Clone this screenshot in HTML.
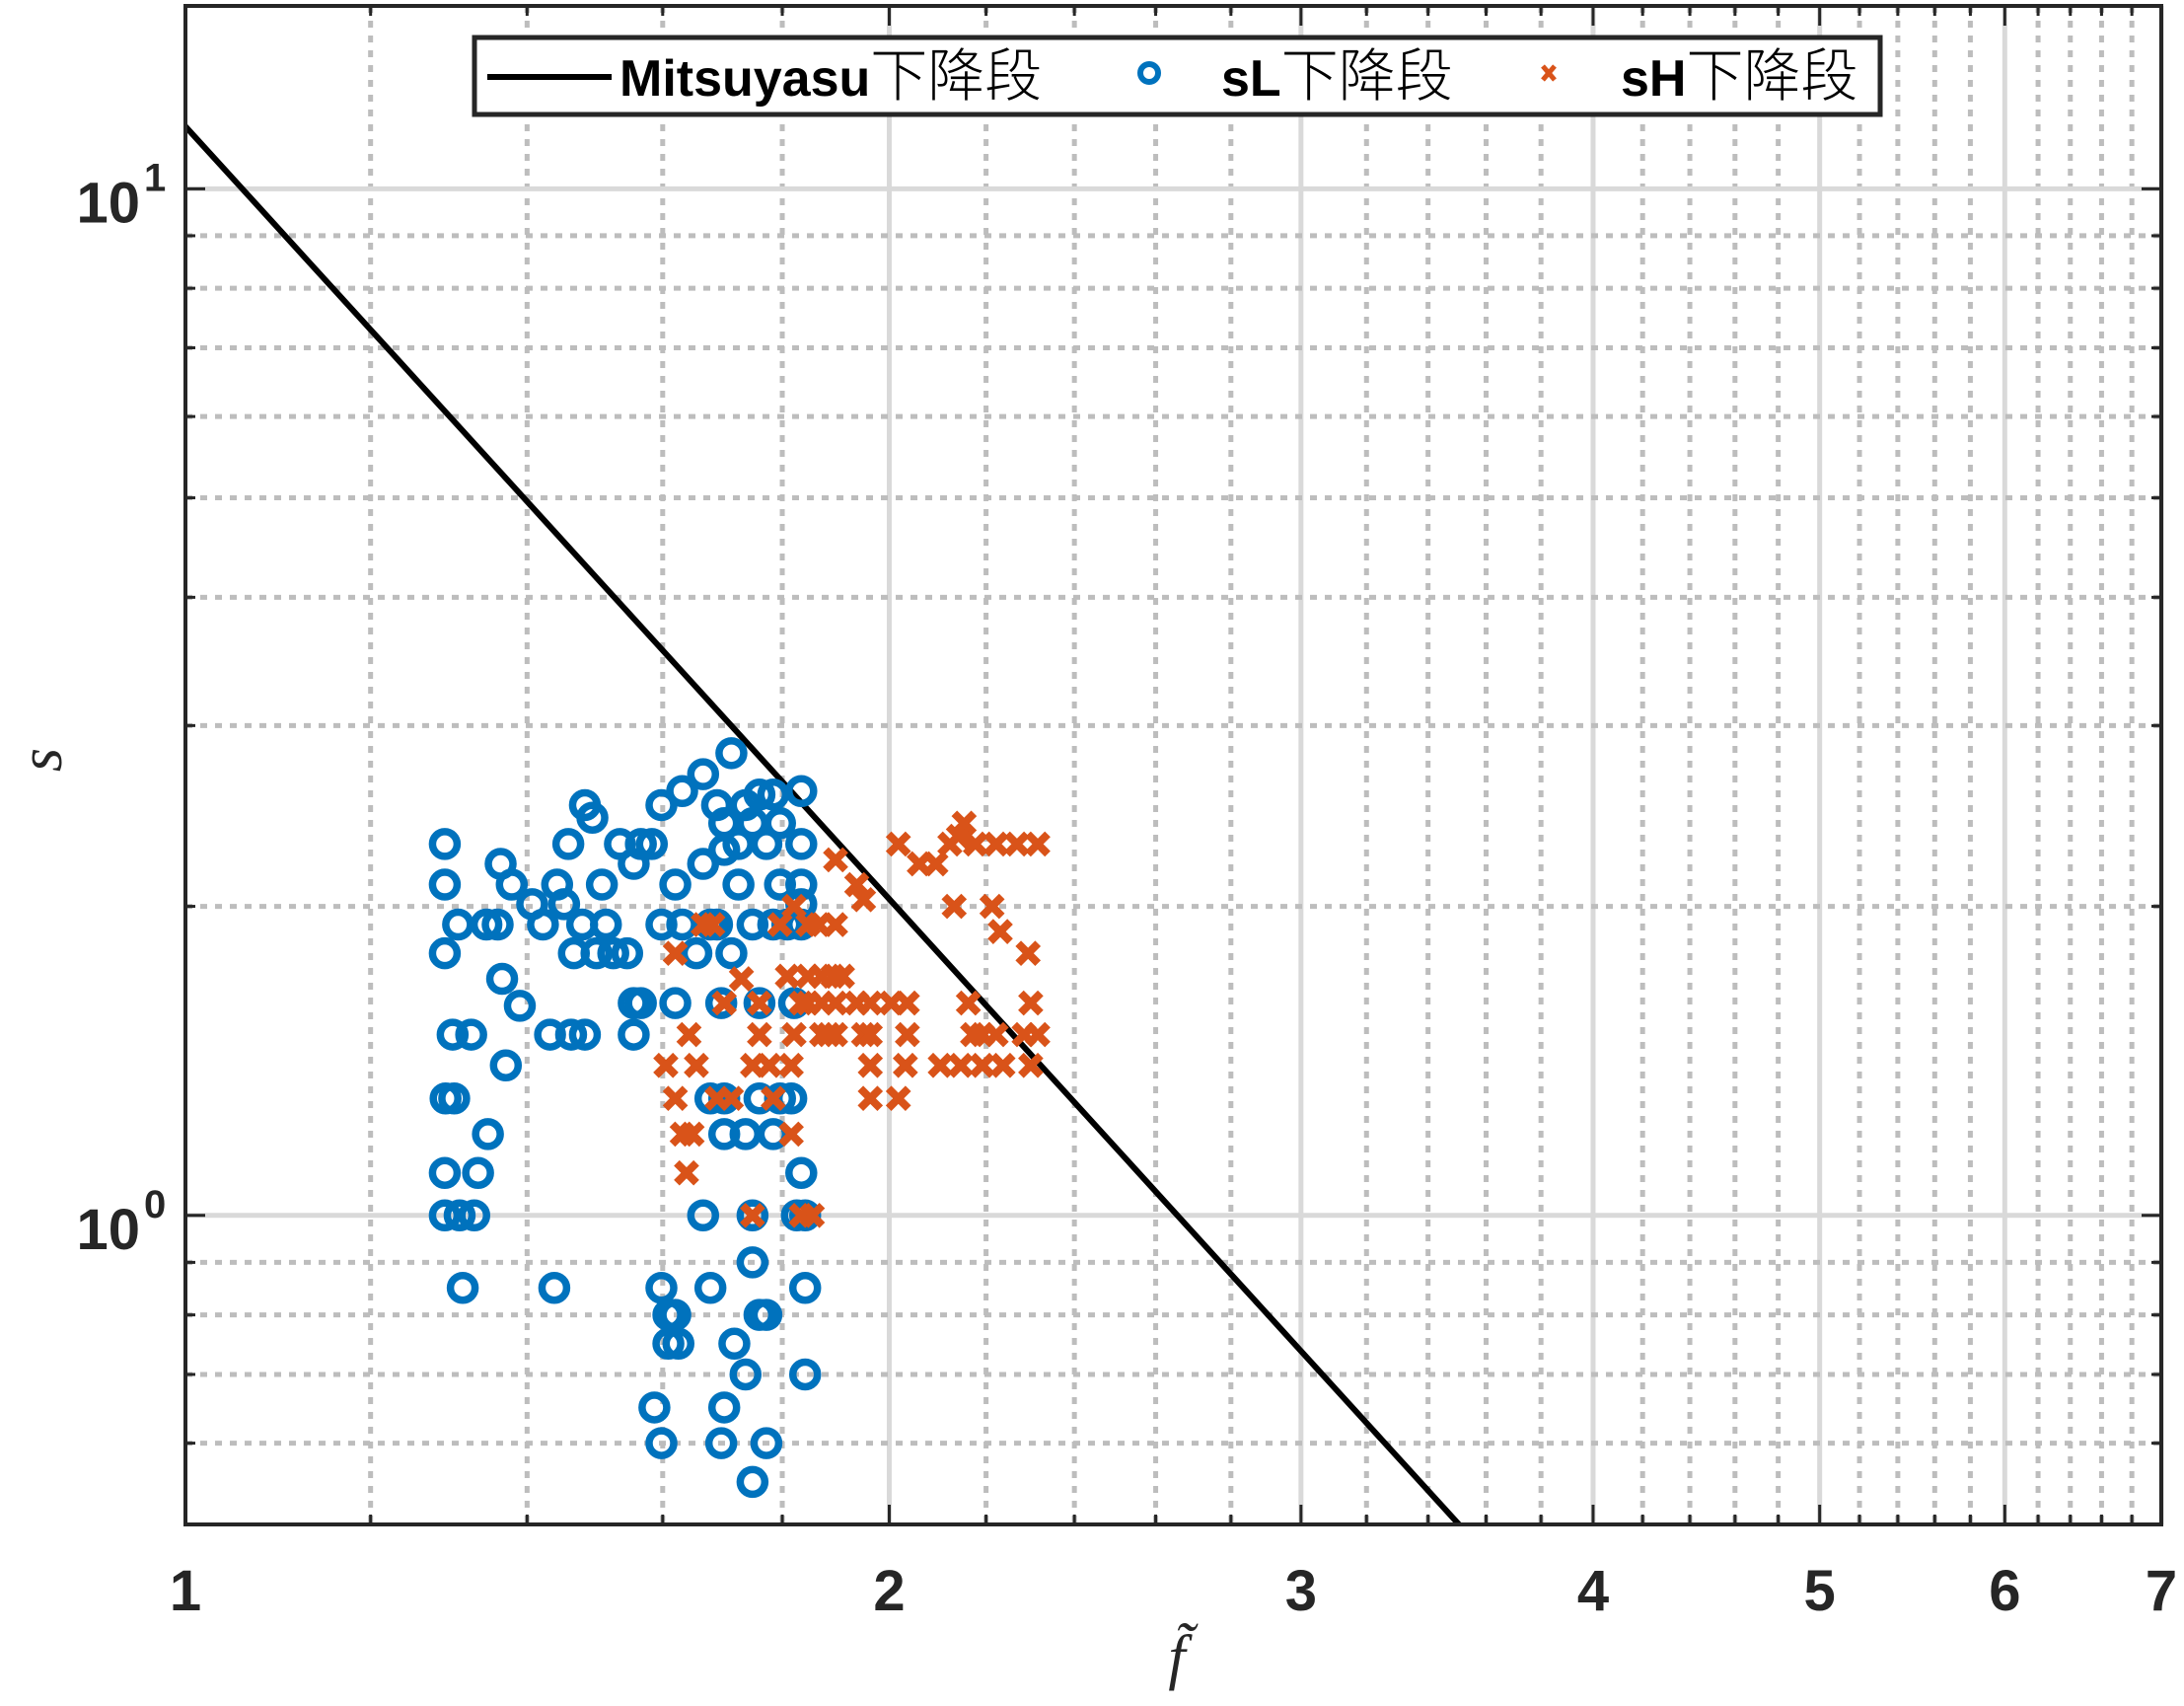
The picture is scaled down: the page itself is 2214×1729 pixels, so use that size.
<!DOCTYPE html>
<html><head><meta charset="utf-8"><style>
html,body{margin:0;padding:0;background:#fff;}
svg{display:block;}
</style></head><body>
<svg id="chart" width="2214" height="1729" viewBox="0 0 2214 1729" xmlns="http://www.w3.org/2000/svg">
<rect x="0" y="0" width="2214" height="1729" fill="#fff"/>
<g id="grid"></g>
<g id="ticks"></g>
<g id="marks"></g>
<rect x="188" y="6" width="2003" height="1539" fill="none" stroke="#262626" stroke-width="4"/>
<g id="labels" font-family="'Liberation Sans', sans-serif" font-weight="bold" fill="#262626"></g>
<text x="1193" y="1700" font-family="'Liberation Serif', serif" font-style="italic" font-size="62" text-anchor="middle" fill="#262626">f̃</text>
<text x="62" y="770" font-family="'Liberation Serif', serif" font-style="italic" font-size="62" text-anchor="middle" fill="#262626" transform="rotate(-90 62 770)">s</text>
<g>
<rect x="481" y="38" width="1425" height="78" fill="#fff" stroke="#262626" stroke-width="5"/>
<line x1="494" y1="78" x2="620" y2="78" stroke="#000" stroke-width="6"/>
<text x="628" y="97" font-size="52" fill="#000" font-family="'Liberation Sans','Noto Sans CJK SC',sans-serif"><tspan font-weight="bold">Mitsuyasu</tspan><tspan font-size="58" font-weight="300">下降段</tspan></text>
<circle cx="1165" cy="74" r="9" fill="none" stroke="#0072BD" stroke-width="6"/>
<text x="1238" y="97" font-size="52" fill="#000" font-family="'Liberation Sans','Noto Sans CJK SC',sans-serif"><tspan font-weight="bold">sL</tspan><tspan font-size="58" font-weight="300">下降段</tspan></text>
<g stroke="#D95319" stroke-width="5"><line x1="1564" y1="67" x2="1576" y2="81"/><line x1="1576" y1="67" x2="1564" y2="81"/></g>
<text x="1643" y="97" font-size="52" fill="#000" font-family="'Liberation Sans','Noto Sans CJK SC',sans-serif"><tspan font-weight="bold">sH</tspan><tspan font-size="58" font-weight="300">下降段</tspan></text>
</g>
</svg>
<script>
const sL_f=[1.291,1.291,1.291,1.308,1.345,1.360,1.364,1.379,1.366,1.390,1.301,1.325,1.292,1.303,1.371,1.347,1.291,1.334,1.291,1.310,1.329,1.314,1.438,1.407,1.422,1.442,1.458,1.482,1.493,1.452,1.466,1.478,1.499,1.513,1.524,1.507,1.462,1.482,1.432,1.534,1.566,1.583,1.555,1.545,1.555,1.566,1.555,1.598,1.631,1.665,1.712,1.688,1.700,1.736,1.724,1.748,1.760,1.784,1.772,1.796,1.834,1.834,1.834,1.834,1.834,1.700,1.724,1.665,1.620,1.598,1.631,1.677,1.654,1.620,1.695,1.760,1.712,1.688,1.748,1.784,1.796,1.809,1.821,1.677,1.700,1.760,1.796,1.816,1.700,1.736,1.784,1.834,1.748,1.826,1.841,1.665,1.598,1.677,1.748,1.841,1.609,1.620,1.760,1.772,1.609,1.625,1.717,1.736,1.841,1.587,1.700,1.598,1.695,1.772,1.748];
const sL_s=[2.30,2.10,1.80,1.92,1.92,1.92,2.20,2.10,1.70,1.60,1.50,1.50,1.30,1.30,1.40,1.20,1.10,1.10,1.0,1.0,1.0,0.85,0.85,2.01,1.92,2.10,2.30,2.51,2.44,2.01,1.80,1.92,1.80,1.92,1.80,2.10,1.50,1.50,1.50,2.30,2.30,2.30,2.20,1.80,1.61,1.61,1.50,2.51,2.59,2.69,2.82,2.51,2.41,2.51,2.30,2.41,2.57,2.57,2.30,2.41,2.30,2.10,2.01,1.92,2.59,2.27,2.10,2.20,2.10,1.92,1.92,1.92,1.80,1.61,1.61,1.61,1.80,1.92,1.92,1.92,2.10,1.92,1.61,1.30,1.30,1.30,1.30,1.30,1.20,1.20,1.20,1.10,1.0,1.0,1.0,1.0,0.85,0.85,0.90,0.85,0.80,0.80,0.80,0.80,0.75,0.75,0.75,0.70,0.70,0.65,0.65,0.60,0.60,0.60,0.55];
const sH_f=[1.620,1.665,1.681,1.642,1.605,1.654,1.620,1.631,1.647,1.638,1.700,1.729,1.760,1.760,1.748,1.777,1.816,1.688,1.712,1.784,1.816,1.748,1.834,1.854,1.796,1.821,1.846,1.897,1.846,1.871,1.892,1.910,1.834,1.871,1.897,1.937,1.963,2.004,2.036,1.884,1.897,1.950,1.963,2.036,1.963,2.032,1.963,2.018,1.897,1.937,1.950,2.018,2.060,2.094,2.123,2.141,2.153,2.177,2.222,2.268,2.315,2.132,2.213,2.231,2.293,2.162,2.299,2.171,2.192,2.222,2.284,2.315,2.103,2.146,2.192,2.237,2.299,1.809,1.821,1.846,1.871,1.866];
const sH_s=[1.80,1.92,1.92,1.50,1.40,1.40,1.30,1.20,1.20,1.10,1.61,1.70,1.61,1.50,1.40,1.40,1.40,1.30,1.30,1.30,1.20,1.0,1.0,1.0,1.92,2.0,1.92,1.92,1.71,1.71,1.71,1.71,1.61,1.61,1.61,1.61,1.61,1.61,1.61,1.50,1.50,1.50,1.50,1.50,1.40,1.40,1.30,1.30,2.22,2.10,2.03,2.30,2.20,2.20,2.30,2.34,2.41,2.30,2.30,2.30,2.30,2.0,2.0,1.89,1.80,1.61,1.61,1.50,1.50,1.50,1.50,1.50,1.40,1.40,1.40,1.40,1.40,1.71,1.50,1.61,1.50,1.92];
const mitsuyasuCoef=11.5;
const mitsuyasuExp=-2.5;
const xTickVals=[1,2,3,4,5,6,7];
const xTickLabels=["1","2","3","4","5","6","7"];
const yTickVals=[1,10];
const yTickExps=["0","1"];

const NS="http://www.w3.org/2000/svg";
const L=188,R=2191,T=6,B=1545,XMIN=1,XMAX=7,YMIN=0.5,YMAX=15.07;
function X(f){return L+(Math.log10(f)-Math.log10(XMIN))/(Math.log10(XMAX)-Math.log10(XMIN))*(R-L);}
function Y(s){return B-(Math.log10(s)-Math.log10(YMIN))/(Math.log10(YMAX)-Math.log10(YMIN))*(B-T);}
function mk(tag,attrs,parent){const e=document.createElementNS(NS,tag);for(const k in attrs)e.setAttribute(k,attrs[k]);parent.appendChild(e);return e;}
const grid=document.getElementById('grid'),ticks=document.getElementById('ticks'),marks=document.getElementById('marks'),labels=document.getElementById('labels');

for(let v=1.2;v<7.0001;v+=0.2){
  const vv=Math.round(v*10)/10;
  const major=Math.abs(vv-Math.round(vv))<1e-6;
  const x=X(vv);
  let g=mk('line',{x1:x,x2:x,y1:T,y2:B,stroke:major?'#d9d9d9':'#bdbdbd','stroke-width':5,'stroke-dasharray':major?'none':'7 8'},grid);
  
  
  let t1=mk('line',{x1:x,x2:x,y1:B,y2:B-(major?20:10),stroke:'#262626','stroke-width':3},ticks);
  
  
  let t2=mk('line',{x1:x,x2:x,y1:T,y2:T+(major?20:10),stroke:'#262626','stroke-width':3},ticks);
  
  
}
const yMinor=[0.6,0.7,0.8,0.9,2,3,4,5,6,7,8,9];
yMinor.forEach(v=>{
  const y=Y(v);
  let g=mk('line',{x1:L,x2:R,y1:y,y2:y,stroke:'#bdbdbd','stroke-width':5,'stroke-dasharray':'7 8'},grid);
  
  
  let t=mk('line',{x1:L,x2:L+10,y1:y,y2:y,stroke:'#262626','stroke-width':3},ticks);
  
  
  let t2=mk('line',{x1:R,x2:R-10,y1:y,y2:y,stroke:'#262626','stroke-width':3},ticks);
  
  
});
yTickVals.forEach((v,i)=>{
  const y=Y(v);
  let g=mk('line',{x1:L,x2:R,y1:y,y2:y,stroke:'#d9d9d9','stroke-width':5},grid);
  
  
  let t=mk('line',{x1:L,x2:L+20,y1:y,y2:y,stroke:'#262626','stroke-width':3},ticks);
  
  
  let t2=mk('line',{x1:R,x2:R-20,y1:y,y2:y,stroke:'#262626','stroke-width':3},ticks);
  
  
  const tx=mk('text',{x:142,y:y+34,'font-size':58,'text-anchor':'end'},labels);
  tx.textContent='10';
  
  
  const ex=mk('text',{x:146,y:y+2,'font-size':40,'text-anchor':'start'},labels);
  ex.textContent=yTickExps[i];
  
  
});
xTickVals.forEach((v,i)=>{
  const t=mk('text',{x:X(v),y:1632,'font-size':58,'text-anchor':'middle'},labels);
  t.textContent=xTickLabels[i];
  
  
});

const fEnd=Math.pow(YMIN/mitsuyasuCoef,1/mitsuyasuExp);
const pts=[];
for(let i=0;i<=40;i++){const f=XMIN+(Math.min(fEnd,XMAX)-XMIN)*i/40;pts.push(X(f)+','+Y(mitsuyasuCoef*Math.pow(f,mitsuyasuExp)));}
const cp=mk('clipPath',{id:'clip'},document.getElementById('chart'));
mk('rect',{x:L,y:T,width:R-L,height:B-T},cp);
const line=mk('polyline',{points:pts.join(' '),fill:'none',stroke:'#000','stroke-width':6,'clip-path':'url(#clip)'},marks);



sL_f.forEach((f,i)=>{
  const c=mk('circle',{cx:X(f),cy:Y(sL_s[i]),r:12.5,fill:'none',stroke:'#0072BD','stroke-width':7.5},marks);
  
  
});
sH_f.forEach((f,i)=>{
  const x=X(f),y=Y(sH_s[i]),d=10;
  const p=mk('path',{d:`M${x-d},${y-d}L${x+d},${y+d}M${x+d},${y-d}L${x-d},${y+d}`,stroke:'#D95319','stroke-width':8,fill:'none'},marks);
  
  
});
</script>
</body></html>
